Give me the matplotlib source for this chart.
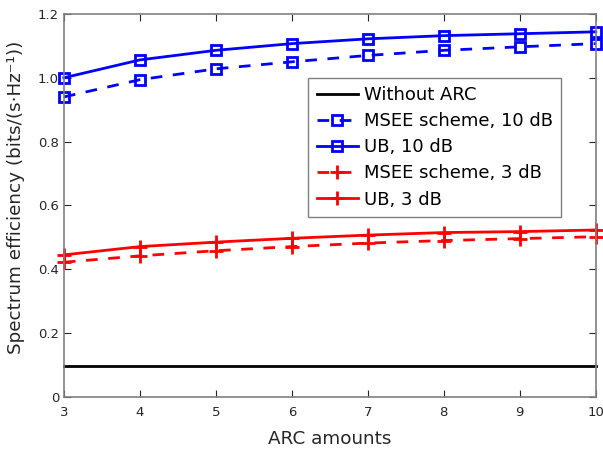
import matplotlib
matplotlib.use("Agg")
import matplotlib.pyplot as plt

arc = [3, 4, 5, 6, 7, 8, 9, 10]
without_arc = [0.097] * 8
msee_10 = [0.940, 0.994, 1.028, 1.050, 1.070, 1.086, 1.097, 1.107]
ub_10 = [1.000, 1.056, 1.086, 1.107, 1.122, 1.132, 1.138, 1.144]
msee_3 = [0.422, 0.442, 0.458, 0.471, 0.482, 0.490, 0.496, 0.502]
ub_3 = [0.445, 0.471, 0.485, 0.497, 0.507, 0.515, 0.518, 0.523]

plt.rcParams['font.family'] = ['DejaVu Sans']
fig = plt.figure(figsize=(6.03, 4.5), dpi=100)
ax = fig.add_axes([0.106, 0.118, 0.882, 0.851])

dash = (4.2, 3.8)
kw = dict(lw=2, clip_on=False)
ax.plot(arc, without_arc, '-', color='black', label='Without ARC', **kw)
ax.plot(arc, msee_10, '--s', color='blue', ms=7.3, mfc='none', mew=2,
        dashes=dash, label='MSEE scheme, 10 dB', **kw)
ax.plot(arc, ub_10, '-s', color='blue', ms=7.3, mfc='none', mew=2,
        label='UB, 10 dB', **kw)
ax.plot(arc, msee_3, '--+', color='red', ms=10, mew=2,
        dashes=dash, label='MSEE scheme, 3 dB', **kw)
ax.plot(arc, ub_3, '-+', color='red', ms=10, mew=2, label='UB, 3 dB', **kw)

ax.set_xlim(3, 10)
ax.set_ylim(0, 1.2)
ax.set_xticks(arc)
ax.set_yticks([0, 0.2, 0.4, 0.6, 0.8, 1.0, 1.2])
ax.set_yticklabels(['0', '0.2', '0.4', '0.6', '0.8', '1.0', '1.2'])
ax.tick_params(direction='in', top=True, right=True, labelsize=9.5,
               colors='#262626', length=5)
ax.tick_params(axis='x', pad=6.5)
for s in ax.spines.values():
    s.set_color('#808080')
    s.set_linewidth(1.2)

ax.set_xlabel('ARC amounts', fontsize=13.2, color='#262626', labelpad=8)
ax.set_ylabel('Spectrum efficiency (bits/(s\u00b7Hz\u207b\u00b9))', fontsize=13.2,
              color='#262626')
ax.yaxis.set_label_coords(-0.073, 0.52)

leg = ax.legend(loc='upper right', bbox_to_anchor=(0.934, 0.833), fontsize=13,
                fancybox=False, framealpha=1, edgecolor='#808080',
                handlelength=2.3, handletextpad=0.3, borderpad=0.45,
                labelspacing=0.45, borderaxespad=0)
leg.get_frame().set_linewidth(1.0)

fig.savefig('out.png', dpi=100)
